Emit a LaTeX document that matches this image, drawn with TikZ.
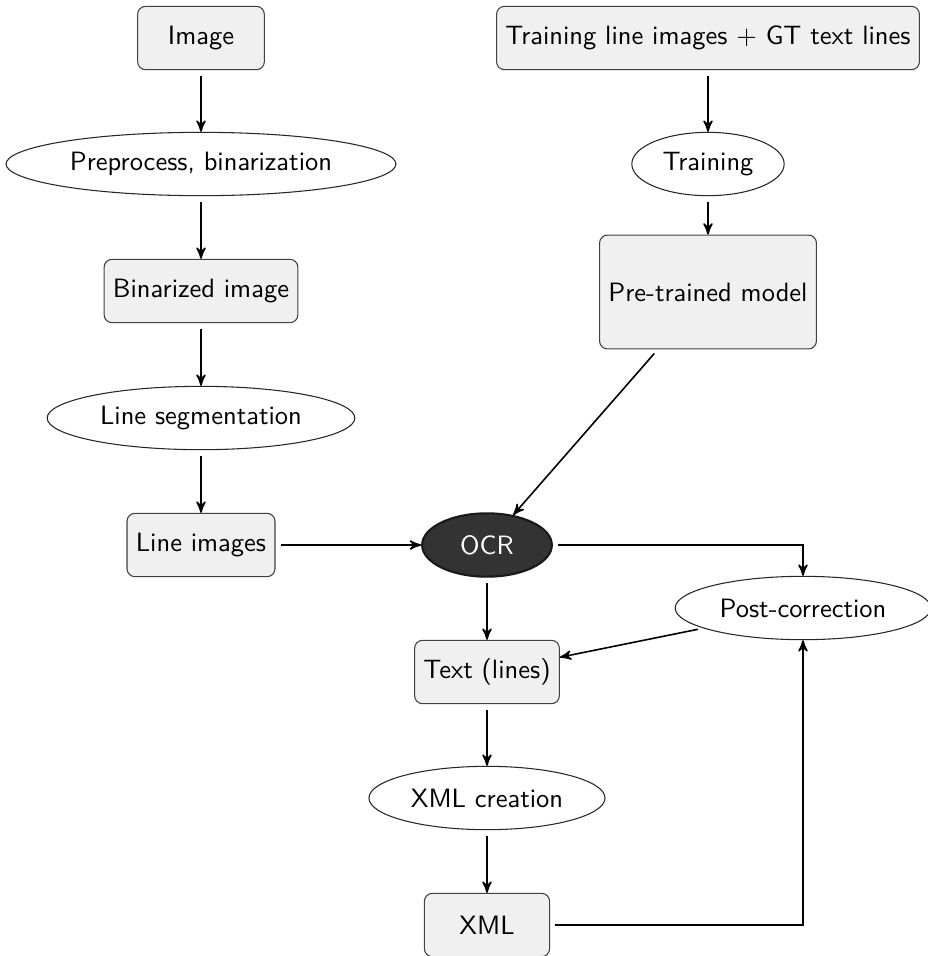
\documentclass[tikz,border=0pt]{standalone}
\usepackage{amsmath}
\usepackage{tikz}
\usetikzlibrary{arrows,positioning,calc,shapes.geometric}

\begin{document}
\begin{tikzpicture}[x=0.01326cm,y=-0.01326cm,font=\sffamily,>=stealth',
  box/.style={rectangle,draw=black!75,fill=black!6,rounded corners=3pt,minimum height=0.84cm},
  proc/.style={ellipse,draw=black!85,inner sep=0pt,minimum height=0.84cm},
  flow/.style={->,semithick,shorten <=2pt}]
\useasboundingbox (0,0) rectangle (928,956);

% left column: preparing the line images
\node[box,minimum width=1.68cm,name=image] at (201,38) {Image};
\node[proc,minimum width=5.17cm,name=prep] at (201,164) {Preprocess, binarization};
\node[box,minimum width=2.53cm,name=binimg] at (201,291) {Binarized image};
\node[proc,minimum width=4.08cm,name=lineseg] at (201,418) {Line segmentation};
\node[box,minimum width=1.94cm,name=lineimg] at (201,545) {Line images};

% right column: training
\node[box,minimum width=5.53cm,name=traindata] at (708,38) {Training line images $+$ GT text lines};
\node[proc,minimum width=2.02cm,name=training] at (708,164) {Training};
\node[box,minimum width=2.84cm,minimum height=1.51cm,name=model] at (708,292) {Pre-trained model};

% recognition and output
\node[ellipse,draw=black!90,thick,fill=black!80,text=white,minimum width=1.72cm,minimum height=0.84cm,inner sep=0pt,name=ocr] at (487,545) {OCR};
\node[proc,minimum width=3.39cm,name=post] at (803,608) {Post-correction};
\node[box,minimum width=1.90cm,name=text] at (487,672) {Text (lines)};
\node[proc,minimum width=3.13cm,name=xmlcr] at (487,798) {XML creation};
\node[box,minimum width=1.66cm,name=xml] at (487,925) {XML};

% arrows of the left column
\draw[flow] (image) -- (prep);
\draw[flow] (prep) -- (binimg);
\draw[flow] (binimg) -- (lineseg);
\draw[flow] (lineseg) -- (lineimg);
\draw[flow] (lineimg) -- (ocr);

% arrows of the right column
\draw[flow] (traindata) -- (training);
\draw[flow] (training) -- (model);
\draw[flow] (model) -- (ocr);

% arrows to the output
\draw[flow] (ocr) -| (post);
\draw[flow] (post) -- (text);
\draw[flow] (ocr) -- (text);
\draw[flow] (text) -- (xmlcr);
\draw[flow] (xmlcr) -- (xml);
\draw[flow] (xml) -| (post);
\end{tikzpicture}
\end{document}
